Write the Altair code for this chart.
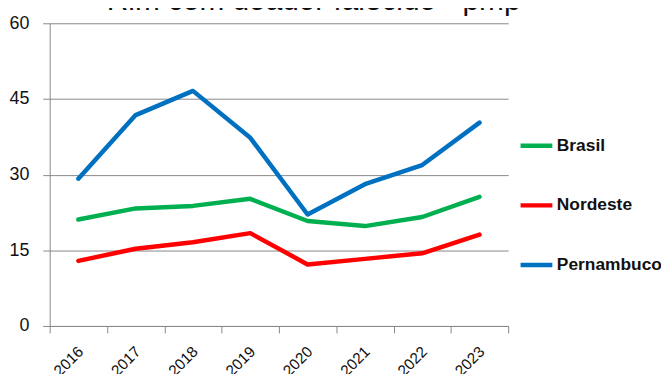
import altair as alt
import pandas as pd

years = ["2016", "2017", "2018", "2019", "2020", "2021", "2022", "2023"]
brasil = [21.1, 23.3, 23.8, 25.2, 20.8, 19.8, 21.6, 25.6]
nordeste = [12.9, 15.3, 16.6, 18.4, 12.2, 13.3, 14.4, 18.1]
pernambuco = [29.2, 41.8, 46.6, 37.3, 22.1, 28.1, 31.9, 40.3]
series = ["Brasil", "Nordeste", "Pernambuco"]
colors = ["#00B050", "#FF0000", "#0070C0"]
y_ticks = [0, 15, 30, 45, 60]
title_text = "Rim com doador falecido - pmp"

rows = []
for name, vals in zip(series, [brasil, nordeste, pernambuco]):
    for yr, v in zip(years, vals):
        rows.append({"Ano": yr, "Valor": v, "Serie": name})
df = pd.DataFrame(rows)

FONT = "Liberation Sans, Arial, sans-serif"

chart = alt.Chart(df).mark_line(strokeWidth=4.5, strokeCap="round", strokeJoin="round").encode(
    x=alt.X("Ano:N", sort=years,
            scale=alt.Scale(type="band", paddingInner=0, paddingOuter=0),
            axis=alt.Axis(title=None, labelAngle=-45, tickBand="extent", grid=False,
                          domainColor="#888888", tickColor="#888888", tickSize=7,
                          labelFontSize=15.5, labelColor="#111111", labelFont=FONT,
                          labelPadding=11, labelOffset=-3)),
    y=alt.Y("Valor:Q", scale=alt.Scale(domain=[0, 60], nice=False),
            axis=alt.Axis(title=None, values=y_ticks, grid=True, gridColor="#888888",
                          domainColor="#888888", tickColor="#888888", tickSize=7,
                          labelFontSize=18, labelColor="#111111", labelFont=FONT,
                          labelPadding=14)),
    color=alt.Color("Serie:N", scale=alt.Scale(domain=series, range=colors),
                    legend=alt.Legend(title=None, orient="none", legendX=472, legendY=105,
                                      symbolType="stroke", symbolSize=1024, symbolStrokeWidth=4.5,
                                      labelFontSize=17.5, labelFontWeight="bold", labelFont=FONT,
                                      labelColor="#111111", rowPadding=32, labelOffset=2,
                                      padding=0)),
).properties(
    width=462, height=305,
    title=alt.TitleParams(title_text, fontSize=30, fontWeight="normal", font=FONT,
                          color="#111111", anchor="middle", frame="group",
                          baseline="alphabetic", offset=0, dx=35, dy=26),
    autosize=alt.AutoSizeParams(type="none"),
    padding={"left": 42, "top": 14, "right": 154, "bottom": 47},
).configure_view(stroke=None)

chart.save("out.html", embed_options={"renderer": "svg", "actions": False})
